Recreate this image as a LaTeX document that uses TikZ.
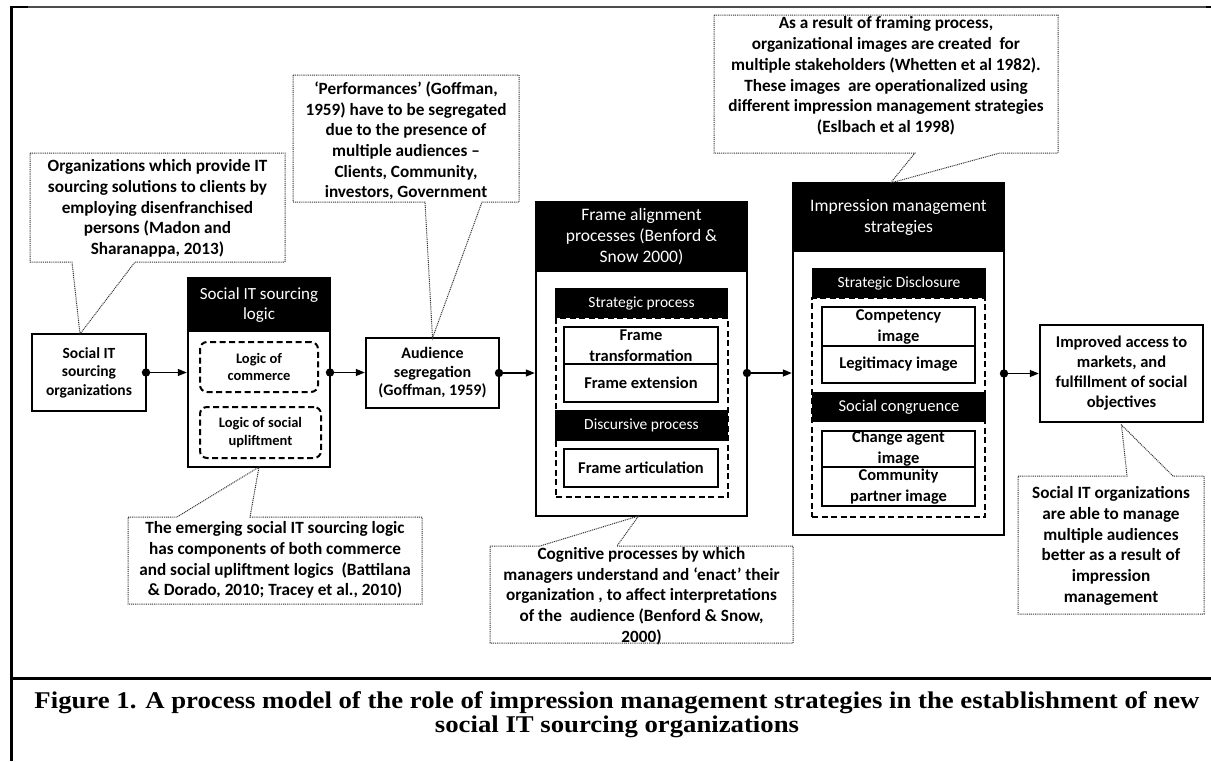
\documentclass[tikz,border=0pt]{standalone}
\usepackage{fontspec}
\setmainfont{Carlito}
\newfontfamily\capfont{Liberation Serif}
\usetikzlibrary{arrows.meta,calc}
\newlength\caplen
\newcommand\capone{Figure 1. A process model of the role of impression management strategies in the establishment of new}
\newcommand\capfnt{\capfont\bfseries\fontsize{24}{26}\selectfont}
\begin{document}
\settowidth\caplen{\capfnt\capone}%
\pgfmathsetmacro\capsc{1165/\caplen}%
\begin{tikzpicture}[x=1pt,y=-1pt,
  mainbox/.style={draw,line width=2.8pt,inner sep=0pt,outer sep=0pt,align=center,
    font=\bfseries\fontsize{15.5}{18.5}\selectfont},
  hdr/.style={fill=black,text=white,inner sep=0pt,outer sep=0pt,align=center,
    font=\fontsize{17.5}{21}\selectfont},
  subhdr/.style={fill=black,text=white,inner sep=0pt,outer sep=0pt,align=center,
    font=\fontsize{15.5}{17}\selectfont},
  ibox/.style={draw,line width=2.3pt,inner sep=0pt,outer sep=0pt,align=center,
    font=\bfseries\fontsize{16.5}{21}\selectfont},
  dbox/.style={draw,line width=2pt,dash pattern=on 6pt off 3.5pt,rounded corners=7pt,
    inner sep=0pt,outer sep=0pt,align=center,font=\bfseries\fontsize{14.5}{17.5}\selectfont},
  dashgrp/.style={draw,line width=2pt,dash pattern=on 6pt off 3.5pt,inner sep=0pt,outer sep=0pt},
  conn/.style={line width=1.3pt,-{Triangle[length=9pt,width=7pt]},shorten >=1.2pt},
  dot/.style={fill=black},
  callout/.style={draw=black!80,line width=1pt,dash pattern=on 1pt off 0.9pt},
  calltext/.style={inner sep=0pt,align=center,font=\bfseries\fontsize{17.2}{20.7}\selectfont},
  callbox/.style={inner sep=0pt,outer sep=0pt}
]
\useasboundingbox (0,0) rectangle (1211,761);
% page frame
\draw[line width=1.2pt,black!70] (11,7) -- (1211,7);
\draw[line width=2.5pt] (11,7) -- (28,7);
\draw[line width=2.5pt] (1206,7) -- (1211,7);
\draw[line width=3pt] (11,5.8) -- (11,761);
\draw[line width=3pt] (11,678) -- (1211,678);

% ---- main boxes ----
\node[mainbox,minimum width=114pt,minimum height=77pt] (org) at (89,372.5)
  {Social IT\\sourcing\\organizations};

\node[mainbox,minimum width=142pt,minimum height=189pt] (logic) at (259,372.5) {};
\node[hdr,minimum width=142pt,minimum height=54pt,font=\fontsize{17}{20}\selectfont] (logichd) at (259,305)
  {Social IT sourcing\\logic};
\node[dbox,minimum width=118pt,minimum height=50pt] (comm) at (259,367) {Logic of\\commerce};
\node[dbox,minimum width=121pt,minimum height=51pt] (upl) at (260.5,432.5) {Logic of social\\upliftment};

\node[mainbox,minimum width=133pt,minimum height=70pt,font=\bfseries\fontsize{16}{18.5}\selectfont] (aud) at (432.5,373)
  {Audience\\segregation\\(Goffman, 1959)};

% frame alignment
\node[mainbox,minimum width=211pt,minimum height=314pt] (frame) at (641.5,359) {};
\node[hdr,minimum width=211pt,minimum height=70pt] (framehd) at (641.5,237)
  {Frame alignment\\processes (Benford \&\\Snow 2000)};
\node[dashgrp,minimum width=172pt,minimum height=179pt] (fgrp) at (642,407.5) {};
\node[subhdr,minimum width=173pt,minimum height=30pt] (strat) at (641.5,303) {Strategic process};
\node[subhdr,minimum width=173pt,minimum height=31pt] (disc) at (641.5,425.5) {Discursive process};
\node[ibox,minimum width=154pt,minimum height=37pt] (ftrans) at (641,345.5) {Frame\\transformation};
\node[ibox,minimum width=154pt,minimum height=38pt] (fext) at (641,383) {Frame extension};
\node[ibox,minimum width=154pt,minimum height=38pt] (fart) at (641,468) {Frame articulation};

% impression management
\node[mainbox,minimum width=211pt,minimum height=352pt] (imp) at (898.5,359) {};
\node[hdr,minimum width=211pt,minimum height=69pt] (imphd) at (898.5,217.5)
  {Impression management\\strategies};
\node[dashgrp,minimum width=173pt,minimum height=219pt] (igrp) at (898.5,407.5) {};
\node[subhdr,minimum width=174pt,minimum height=30pt] (sd) at (899,283) {Strategic Disclosure};
\node[subhdr,minimum width=174pt,minimum height=30pt,font=\fontsize{16.5}{17}\selectfont] (sc) at (899,407) {Social congruence};
\node[ibox,minimum width=153pt,minimum height=39pt] (comp) at (898.5,326.5) {Competency\\image};
\node[ibox,minimum width=153pt,minimum height=37pt] (legit) at (898.5,364.5) {Legitimacy image};
\node[ibox,minimum width=153pt,minimum height=36pt] (chg) at (898.5,449) {Change agent\\image};
\node[ibox,minimum width=153pt,minimum height=39pt] (cpart) at (898.5,486.5) {Community\\partner image};

\node[mainbox,minimum width=163pt,minimum height=97pt,font=\bfseries\fontsize{16.5}{20}\selectfont] (out) at (1121.5,373.5)
  {Improved access to\\markets, and\\fulfillment of social\\objectives};

% ---- connectors ----
\draw[conn] (org.east) -- (logic.west);
\fill[dot] (org.east) circle (4.2pt);
\draw[conn] (logic.east) -- (logic.east -| aud.west);
\fill[dot] (logic.east) circle (4.2pt);
\draw[conn] (aud.east) -- (aud.east -| frame.west);
\fill[dot] (aud.east) circle (4.2pt);
\draw[conn] (frame.east |- aud.east) -- (imp.west |- aud.east);
\fill[dot] (frame.east |- aud.east) circle (4.2pt);
\draw[conn] (imp.east |- out.west) -- (out.west);
\fill[dot] (imp.east |- out.west) circle (4.2pt);

% ---- callouts ----
% 1
\node[callbox,minimum width=255pt,minimum height=109pt] (c1) at (157.5,207.5) {};
\node[calltext] (c1t) at (157.5,208.5) {Organizations which provide IT\\sourcing solutions to clients by\\employing disenfranchised\\persons (Madon and\\Sharanappa, 2013)};
\coordinate (t1) at ($(org.north)+(-9,0)$);
\coordinate (c1a) at (72,262);
\coordinate (c1b) at (135,262);
\draw[callout] (c1.north west) -- (c1.north east) -- (c1.south east) -- (c1b) -- (t1) -- (c1a) -- (c1.south west) -- cycle;

% 2
\node[callbox,minimum width=294pt,minimum height=87pt] (c2) at (275,560.5) {};
\node[calltext] (c2t) at (275,560) {The emerging social IT sourcing logic\\has components of both commerce\\and social upliftment logics~ (Battilana\\\& Dorado, 2010; Tracey et al., 2010)};
\coordinate (t2) at (logic.south);
\coordinate (c2a) at (177,517);
\coordinate (c2b) at (250,517);
\draw[callout] (c2.north west) -- (c2a) -- (t2) -- (c2b) -- (c2.north east) -- (c2.south east) -- (c2.south west) -- cycle;

% 3
\node[callbox,minimum width=226pt,minimum height=127pt] (c3) at (406,138.5) {};
\node[calltext] (c3t) at (406,141) {`Performances' (Goffman,\\1959) have to be segregated\\due to the presence of\\multiple audiences --\\Clients, Community,\\investors, Government};
\coordinate (t3) at (aud.north);
\coordinate (c3a) at (425,202);
\coordinate (c3b) at (482,202);
\draw[callout] (c3.north west) -- (c3.north east) -- (c3.south east) -- (c3b) -- (t3) -- (c3a) -- (c3.south west) -- cycle;

% 4
\node[callbox,minimum width=303pt,minimum height=97pt] (c4) at (641.5,594.5) {};
\node[calltext] (c4t) at (641.5,596) {Cognitive processes by which\\managers understand and `enact' their\\organization , to affect interpretations\\of the~ audience (Benford \& Snow,\\2000)};
\coordinate (t4) at ($(frame.south)+(-3,0)$);
\coordinate (c4a) at (540,546);
\coordinate (c4b) at (617,546);
\draw[callout] (c4.north west) -- (c4a) -- (t4) -- (c4b) -- (c4.north east) -- (c4.south east) -- (c4.south west) -- cycle;

% 5
\node[callbox,minimum width=344pt,minimum height=138pt] (c5) at (886,84) {};
\node[calltext] (c5t) at (886,76) {As a result of framing process,\\organizational images are created~ for\\multiple stakeholders (Whetten et al 1982).\\These images~ are operationalized using\\different impression management strategies\\(Eslbach et al 1998)};
\coordinate (t5) at ($(imp.north)+(-8,0)$);
\coordinate (c5a) at (915,153);
\coordinate (c5b) at (1000,153);
\draw[callout] (c5.north west) -- (c5.north east) -- (c5.south east) -- (c5b) -- (t5) -- (c5a) -- (c5.south west) -- cycle;

% 6
\node[callbox,minimum width=186pt,minimum height=138pt] (c6) at (1111,545) {};
\node[calltext] (c6t) at (1111,546) {Social IT organizations\\are able to manage\\multiple audiences\\better as a result of\\impression\\management};
\coordinate (t6) at ($(out.south)+(0,3)$);
\coordinate (c6a) at (1127,476);
\coordinate (c6b) at (1173,476);
\draw[callout] (c6.north west) -- (c6a) -- (t6) -- (c6b) -- (c6.north east) -- (c6.south east) -- (c6.south west) -- cycle;

% ---- caption ----
\node[inner sep=0pt,anchor=base] (cap1) at (617,708) {\scalebox{\capsc}[1]{\capfnt\capone}};
\node[inner sep=0pt,anchor=base] (cap2) at (617,732) {\scalebox{\capsc}[1]{\capfnt social IT sourcing organizations}};
\end{tikzpicture}
\end{document}
